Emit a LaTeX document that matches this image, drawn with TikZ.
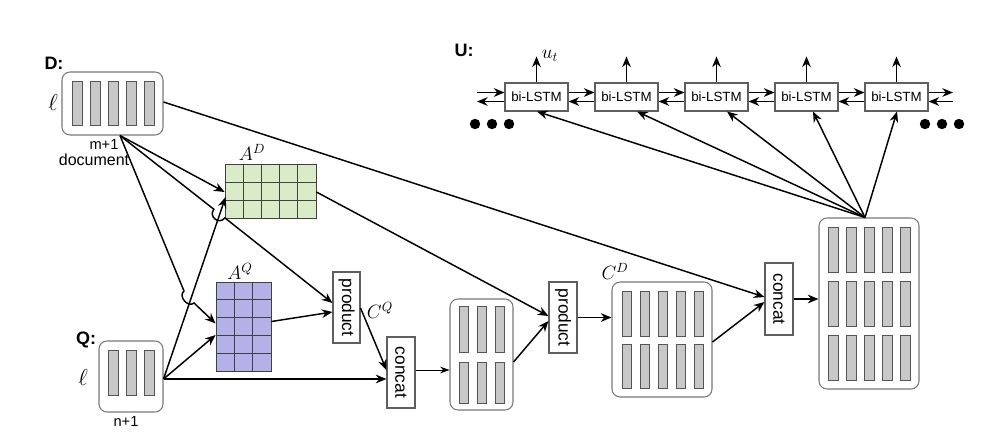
\documentclass[tikz,border=0pt]{standalone}
\usepackage{fontspec}
\setmainfont{Liberation Sans}
\usetikzlibrary{arrows.meta,fit,calc}
\definecolor{gridgreen}{RGB}{217,235,199}
\definecolor{gridpurple}{RGB}{178,178,232}
\definecolor{barfill}{RGB}{200,200,200}
\definecolor{bardraw}{RGB}{85,85,85}
\definecolor{boxgray}{RGB}{120,120,120}
\definecolor{opgray}{RGB}{95,95,95}
\tikzset{
  conn/.style={line width=1.1pt,-{Stealth[length=8pt,width=6.5pt]}},
  thinconn/.style={line width=0.6pt,-{Stealth[length=7pt,width=5pt]}},
  rbox/.style={draw=boxgray,line width=0.8pt,rounded corners=6pt,fill=white,inner sep=0pt},
  bar/.style={draw=bardraw,fill=barfill,line width=0.6pt},
  opbox/.style={draw=opgray,line width=0.8pt,fill=white,inner sep=0pt},
  gridline/.style={draw=black!75,line width=0.6pt},
  optext/.style={font=\fontsize{13}{13}\selectfont,rotate=-90,inner sep=0pt},
  mathlbl/.style={font=\fontsize{14}{14}\selectfont,inner sep=0pt},
  headlbl/.style={font=\bfseries\fontsize{13.5}{14}\selectfont,inner sep=0pt},
  ellbl/.style={font=\fontsize{17}{17}\selectfont,inner sep=0pt},
  lstm/.style={opbox,minimum width=47.25pt,minimum height=21pt,font=\fontsize{10}{10}\selectfont}
}
\begin{document}
\begin{tikzpicture}[x=0.75pt,y=-0.75pt]
\useasboundingbox (0,0) rectangle (993,435);

% ---------- D box ----------
\node[rbox,fit={(62,72)(163,135)}] (D) {};
\foreach \x in {72,90,108,126,144} \draw[bar] (\x,81) rectangle ++(10,44);
\node[headlbl] (Dlab) at (54,63) {D:};
\node[ellbl] (Dell) at (53,103) {$\ell$};
\node[font=\fontsize{11}{11}\selectfont,inner sep=0pt,anchor=base] (Dm) at (104,150) {m+1};
\node[font=\fontsize{12}{12}\selectfont,inner sep=0pt,anchor=base] (Ddoc) at (94,166) {document};

% ---------- Q box ----------
\node[rbox,fit={(99,341)(163,412)}] (Q) {};
\foreach \x in {108,126,144} \draw[bar] (\x,350) rectangle ++(10,45);
\node[headlbl] (Qlab) at (86,340) {Q:};
\node[ellbl] (Qell) at (83,377) {$\ell$};
\node[font=\fontsize{11}{11}\selectfont,inner sep=0pt] (Qn) at (126,421) {n+1};

% ---------- A^D grid ----------
\node[fit={(225,164)(316,218)},inner sep=0pt,draw=black!75,fill=gridgreen,line width=0.6pt] (AD) {};
\foreach \i in {1,...,4} \draw[gridline] ({225+\i*18.2},164) -- ++(0,54);
\foreach \j in {1,2} \draw[gridline] (225,{164+\j*18}) -- ++(91,0);
\node[mathlbl] (ADl) at (252,152) {$A^D$};

% ---------- A^Q grid ----------
\node[fit={(216,282)(271,371)},inner sep=0pt,draw=black!75,fill=gridpurple,line width=0.6pt] (AQ) {};
\foreach \i in {1,2} \draw[gridline] ({216+\i*18.33},282) -- ++(0,89);
\foreach \j in {1,...,4} \draw[gridline] (216,{282+\j*17.8}) -- ++(55,0);
\node[mathlbl] (AQl) at (240,271) {$A^Q$};

% ---------- product 1 / concat 1 ----------
\node[opbox,fit={(333,272)(360,343)}] (P1) {};
\node[optext] (P1t) at (P1.center) {product};
\node[mathlbl] (CQl) at (380,310) {$C^Q$};
\node[opbox,fit={(387,337)(415,408)}] (C1) {};
\node[optext] (C1t) at (C1.center) {concat};

% ---------- middle box ----------
\node[rbox,fit={(450,299)(513,410)}] (M) {};
\foreach \x in {459,477,495} {
  \draw[bar] (\x,306) rectangle ++(9,46);
  \draw[bar] (\x,362) rectangle ++(9,41);
}

% ---------- product 2 ----------
\node[opbox,fit={(549,282)(577,353)}] (P2) {};
\node[optext] (P2t) at (P2.center) {product};

% ---------- C^D box ----------
\node[rbox,fit={(612,282)(712,397)}] (CD) {};
\foreach \x in {622,640,658,676,694} {
  \draw[bar] (\x,291) rectangle ++(9,45);
  \draw[bar] (\x,344) rectangle ++(9,44);
}
\node[mathlbl] (CDl) at (615,271) {$C^D$};

% ---------- concat 2 ----------
\node[opbox,fit={(765,263)(793,335)}] (C2) {};
\node[optext] (C2t) at (C2.center) {concat};

% ---------- big box ----------
\node[rbox,fit={(819,218)(919,389)}] (B) {};
\foreach \x in {828,846,864,882,900} {
  \draw[bar] (\x,227) rectangle ++(10,45);
  \draw[bar] (\x,281) rectangle ++(10,45);
  \draw[bar] (\x,335) rectangle ++(10,45);
}

% ---------- U: bi-LSTMs ----------
\node[headlbl] (Ulab) at (464,50) {U:};
\node[lstm] (L1) at (536.5,97) {bi-LSTM};
\node[lstm] (L2) at (626.5,97) {bi-LSTM};
\node[lstm] (L3) at (716.5,97) {bi-LSTM};
\node[lstm] (L4) at (806.5,97) {bi-LSTM};
\node[lstm] (L5) at (896.5,97) {bi-LSTM};
\node[mathlbl] (ut) at (550,56) {$u_t$};

\foreach \i in {1,...,5} {
  \coordinate (up\i) at ($(L\i.north)+(0,-26)$);
  \draw[conn] (L\i.north) -- (up\i);
}
\foreach \a/\b in {1/2,2/3,3/4,4/5} {
  \draw[conn] ($(L\a.east)+(0,-4.5)$) -- ($(L\b.west)+(0,-4.5)$);
  \draw[conn] ($(L\b.west)+(0,4.5)$) -- ($(L\a.east)+(0,4.5)$);
}
\coordinate (lin) at (477,92.5);
\coordinate (lout) at (477,101.5);
\coordinate (rout) at (953,92.5);
\coordinate (rin) at (953,101.5);
\draw[conn] (lin) -- ($(L1.west)+(0,-4.5)$);
\draw[conn] ($(L1.west)+(0,4.5)$) -- (lout);
\draw[conn] ($(L5.east)+(0,-4.5)$) -- (rout);
\draw[conn] (rin) -- ($(L5.east)+(0,4.5)$);

\foreach \x in {475,492,509} \fill (\x,124) circle (3.9pt);
\foreach \x in {925,942,959} \fill (\x,124) circle (3.9pt);

% ---------- connectors ----------
\coordinate (Dout) at ($(D.south)+(7.5,0)$);
\coordinate (Qout) at ($(Q.east)+(0,2.5)$);
\coordinate (Btop) at ($(B.north)+(-4,0)$);

\draw[conn] (Dout) -- ($(AD.west)+(0,1)$);
\draw[conn] (Dout) -- (213.9,209.3) .. controls (208.1,216.6) and (219.1,225.2) .. (224.9,217.9) -- ($(P1.west)+(0,-4.5)$);
\draw[conn] (Dout) -- (184,291) .. controls (177.8,296.1) and (187.8,308.1) .. (194,303) -- ($(AQ.west)+(0,-3)$);
\draw[conn] ($(D.east)+(0,-1.5)$) -- ($(C2.west)+(0,-2)$);

\draw[conn] (Qout) -- ($(AD.west)+(1,6)$);
\draw[conn] (Qout) -- ($(AQ.west)+(0,8.5)$);
\draw[conn] (Qout) -- ($(C1.west)+(0,6.5)$);

\draw[conn] ($(AQ.east)+(0,-5)$) -- ($(P1.west)+(0,4.5)$);
\draw[conn] ($(P1.east)+(0,0.5)$) -- ($(C1.west)+(0,-2.5)$);
\draw[thinconn] ($(C1.east)+(0,-2.5)$) -- ($(M.west)+(0,15.5)$);

\draw[conn] ($(AD.east)+(0,1)$) -- ($(P2.west)+(0,-1.5)$);
\draw[conn] ($(M.east)+(0,7.5)$) -- ($(P2.west)+(0,3.5)$);
\draw[conn] (P2.east) -- (P2.east -| CD.west);
\draw[conn] ($(CD.east)+(0,2.5)$) -- ($(C2.west)+(0,3)$);
\draw[conn] (C2.east) -- (C2.east -| B.west);

\draw[conn] (Btop) -- ($(L1.south)+(0.5,0)$);
\draw[conn] (Btop) -- ($(L2.south)+(10.5,0)$);
\draw[conn] (Btop) -- ($(L3.south)+(10.5,0)$);
\draw[conn] (Btop) -- ($(L4.south)+(6.5,0)$);
\draw[conn] (Btop) -- ($(L5.south)+(0.5,0)$);
\end{tikzpicture}
\end{document}
